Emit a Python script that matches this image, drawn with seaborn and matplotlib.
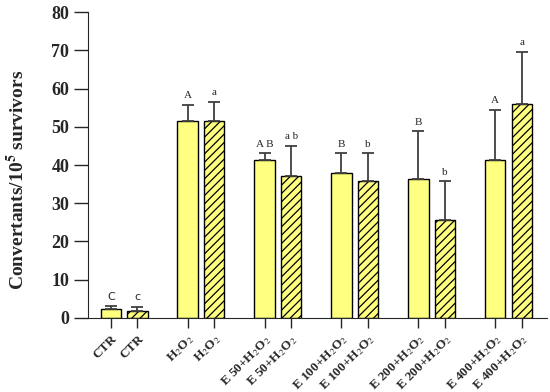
import numpy as np
import pandas as pd
import matplotlib
matplotlib.use("Agg")
import matplotlib.pyplot as plt
import seaborn as sns

# data
groups = ["CTR", "H$_2$O$_2$", "E 50+H$_2$O$_2$", "E 100+H$_2$O$_2$",
          "E 200+H$_2$O$_2$", "E 400+H$_2$O$_2$"]
solid_vals = [2.3, 51.6, 41.3, 37.9, 36.3, 41.3]
solid_err = [0.7, 4.2, 1.8, 5.2, 12.5, 13.1]
hatch_vals = [1.9, 51.6, 37.0, 35.9, 25.7, 55.9]
hatch_err = [1.0, 5.0, 8.1, 7.2, 10.0, 13.7]
solid_letters = ["C", "A", "A B", "B", "B", "A"]
hatch_letters = ["c", "a", "a b", "b", "b", "a"]

sns.set_style("ticks")
plt.rcParams["font.family"] = ["Liberation Serif", "DejaVu Serif"]
plt.rcParams["mathtext.fontset"] = "stix"
plt.rcParams["hatch.linewidth"] = 0.9

group_step = 2.9
pos_solid = [group_step * i for i in range(len(groups))]
pos_hatch = [group_step * i + 1 for i in range(len(groups))]

df_s = pd.DataFrame({"pos": pos_solid, "val": solid_vals})
df_h = pd.DataFrame({"pos": pos_hatch, "val": hatch_vals})

fig = plt.figure(figsize=(5.5, 3.92), dpi=100)
ax = fig.add_axes([0.16, 0.189, 0.835, 0.78])

yellow = "#FFFF80"
# native_scale scales width by the spacing between positions
bar_w = 0.77 / group_step
sns.barplot(data=df_s, x="pos", y="val", native_scale=True, width=bar_w,
            color=yellow, saturation=1, edgecolor="black", linewidth=1.0,
            errorbar=None, ax=ax)
sns.barplot(data=df_h, x="pos", y="val", native_scale=True, width=bar_w,
            color=yellow, saturation=1, edgecolor="black", linewidth=1.0,
            errorbar=None, ax=ax)
for bar in ax.containers[1]:
    bar.set_hatch("////")
    if hasattr(bar, "set_hatchcolor"):
        bar.set_hatchcolor("#4a4a30")

err_kw = dict(fmt="none", ecolor="#404040", elinewidth=1.3, capsize=4, capthick=1.3)
ax.errorbar(pos_solid, solid_vals, yerr=[np.zeros(len(groups)), solid_err], **err_kw)
ax.errorbar(pos_hatch, hatch_vals, yerr=[np.zeros(len(groups)), hatch_err], **err_kw)

# significance letters
for x, v, e, t in zip(pos_solid + pos_hatch, solid_vals + hatch_vals,
                      solid_err + hatch_err, solid_letters + hatch_letters):
    fam = "DejaVu Sans" if t in ("C", "c") else "Liberation Serif"
    ax.text(x, v + e + 1.2, t, ha="center", va="bottom", fontsize=8, family=fam)

ax.set_ylim(0, 80)
ax.set_xlim(-0.86, 16.46)
ax.set_yticks(range(0, 81, 10))
ticks = sorted(pos_solid + pos_hatch)
labels = [g for g in groups for _ in range(2)]
ax.set_xticks(ticks)
ax.set_xticklabels(labels, rotation=45, ha="right", rotation_mode="anchor",
                   fontweight="bold", fontsize=9.5)
ax.tick_params(axis="y", labelsize=13, length=10, width=1)
ax.tick_params(axis="x", length=7, width=1)
for lab in ax.get_yticklabels():
    lab.set_fontweight("bold")
ax.set_xlabel("")
ax.set_ylabel(r"Convertants/10$^{\mathbf{5}}$ survivors", fontsize=14,
              fontweight="bold")
ax.yaxis.set_label_coords(-0.13, 0.45)
sns.despine(ax=ax)

fig.savefig("out.png", dpi=100)
